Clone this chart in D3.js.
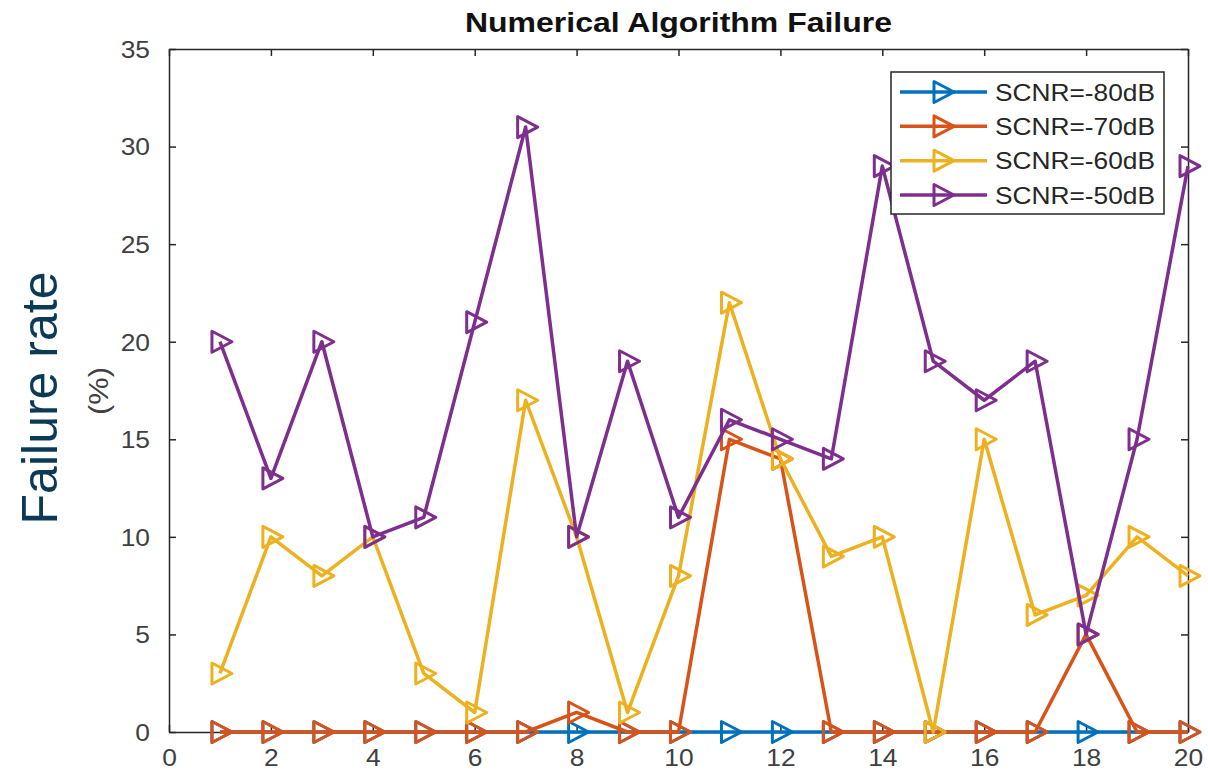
<!DOCTYPE html>
<html>
<head>
<meta charset="utf-8">
<script src="https://cdn.jsdelivr.net/npm/d3@7"></script>
<style>
  html, body { margin: 0; padding: 0; background: #fff; }
  svg { display: block; font-family: "Liberation Sans", Arial, Helvetica, sans-serif; }
</style>
</head>
<body>
<svg id="chart" width="1208" height="779"></svg>
<script>
// Trial index (x axis)
const trials = [1, 2, 3, 4, 5, 6, 7, 8, 9, 10, 11, 12, 13, 14, 15, 16, 17, 18, 19, 20];

// Failure rate (%) per SCNR level
const scnr80 = [0, 0, 0, 0, 0, 0, 0, 0, 0, 0, 0, 0, 0, 0, 0, 0, 0, 0, 0, 0];
const scnr70 = [0, 0, 0, 0, 0, 0, 0, 1, 0, 0, 15, 14, 0, 0, 0, 0, 0, 5, 0, 0];
const scnr60 = [3, 10, 8, 10, 3, 1, 17, 10, 1, 8, 22, 14, 9, 10, 0, 15, 6, 7, 10, 8];
const scnr50 = [20, 13, 20, 10, 11, 21, 31, 10, 19, 11, 16, 15, 14, 29, 19, 17, 19, 5, 15, 29];

const seriesNames = ["SCNR=-80dB", "SCNR=-70dB", "SCNR=-60dB", "SCNR=-50dB"];
const seriesValues = [scnr80, scnr70, scnr60, scnr50];
const seriesColors = ["#0072BD", "#D95319", "#EDB120", "#7E2F8E"];

const xTicks = [0, 2, 4, 6, 8, 10, 12, 14, 16, 18, 20];
const yTicks = [0, 5, 10, 15, 20, 25, 30, 35];

const svg = d3.select("#chart");
const plot = { left: 169, right: 1188, top: 49, bottom: 732 };
const axisColor = "#262626";
const labelColor = "#404040";

const x = d3.scaleLinear().domain([0, 20]).range([plot.left, plot.right]);
const y = d3.scaleLinear().domain([0, 35]).range([plot.bottom, plot.top]);

// Widen text glyphs horizontally by factor k
function stretch(sel, k) {
  sel.each(function () {
    const w = this.getComputedTextLength();
    this.setAttribute("textLength", w * k);
    this.setAttribute("lengthAdjust", "spacingAndGlyphs");
  });
}

// Axes (ticks point inward on all four sides)
const tickLen = 7;
const gx = svg.append("g").attr("transform", `translate(0,${plot.bottom})`)
  .call(d3.axisBottom(x).tickValues(xTicks).tickFormat(d3.format("d")).tickSizeInner(-tickLen).tickSizeOuter(0).tickPadding(17));
const gxTop = svg.append("g").attr("transform", `translate(0,${plot.top})`)
  .call(d3.axisTop(x).tickValues(xTicks).tickFormat("").tickSizeInner(-tickLen).tickSizeOuter(0));
const gy = svg.append("g").attr("transform", `translate(${plot.left},0)`)
  .call(d3.axisLeft(y).tickValues(yTicks).tickFormat(d3.format("d")).tickSizeInner(-tickLen).tickSizeOuter(0).tickPadding(19));
const gyRight = svg.append("g").attr("transform", `translate(${plot.right},0)`)
  .call(d3.axisRight(y).tickValues(yTicks).tickFormat("").tickSizeInner(-tickLen).tickSizeOuter(0));

[gx, gxTop, gy, gyRight].forEach(g => {
  g.select(".domain").attr("stroke", axisColor).attr("stroke-width", 1.5);
  g.selectAll(".tick line").attr("stroke", axisColor).attr("stroke-width", 1.5);
  g.selectAll(".tick text").attr("fill", labelColor).attr("font-size", 24)
    .attr("font-family", "'Liberation Sans', Arial, sans-serif");
});
gx.selectAll(".tick text").attr("dy", "0.71em");
gy.selectAll(".tick text").attr("dy", "0.35em");
stretch(gx.selectAll(".tick text"), 1.1);
stretch(gy.selectAll(".tick text"), 1.1);

// Series lines and open right-pointing triangle markers
const line = d3.line().x((d, i) => x(trials[i])).y(d => y(d));
const tri = "M-8,-10.5 L12,0 L-8,10.5 Z";

seriesValues.forEach((vals, s) => {
  const g = svg.append("g");
  g.append("path").datum(vals)
    .attr("d", line).attr("fill", "none")
    .attr("stroke", seriesColors[s]).attr("stroke-width", 3.5)
    .attr("stroke-linejoin", "round");
  g.selectAll("path.mk").data(vals).enter().append("path")
    .attr("class", "mk")
    .attr("d", tri)
    .attr("transform", (d, i) => `translate(${x(trials[i])},${y(d)})`)
    .attr("fill", "none").attr("stroke", seriesColors[s]).attr("stroke-width", 3)
    .attr("stroke-linejoin", "round");
});

// Title
svg.append("text")
  .attr("x", (plot.left + plot.right) / 2).attr("y", 32)
  .attr("text-anchor", "middle").attr("font-weight", "bold").attr("font-size", 27)
  .attr("fill", "#111").text("Numerical Algorithm Failure")
  .attr("textLength", 427).attr("lengthAdjust", "spacingAndGlyphs");

// Y-axis labels
svg.append("text")
  .attr("transform", "translate(57,398) rotate(-90)")
  .attr("text-anchor", "middle").attr("font-size", 50)
  .attr("fill", "#0b3a57").text("Failure rate");
svg.append("text")
  .attr("transform", "translate(108,391) rotate(-90)")
  .attr("text-anchor", "middle").attr("font-size", 27)
  .attr("fill", labelColor).text("(%)")
  .attr("textLength", 48).attr("lengthAdjust", "spacingAndGlyphs");

// Legend
const legend = svg.append("g");
legend.append("rect")
  .attr("x", 891).attr("y", 72).attr("width", 273).attr("height", 142)
  .attr("fill", "#fff").attr("stroke", axisColor).attr("stroke-width", 1.5);
const ly = d3.scalePoint().domain(seriesNames).range([92, 195]);
seriesNames.forEach((name, s) => {
  const cy = ly(name);
  legend.append("line").attr("x1", 900).attr("x2", 987).attr("y1", cy).attr("y2", cy)
    .attr("stroke", seriesColors[s]).attr("stroke-width", 3.5);
  legend.append("path").attr("d", tri).attr("transform", `translate(942,${cy})`)
    .attr("fill", "none").attr("stroke", seriesColors[s]).attr("stroke-width", 3)
    .attr("stroke-linejoin", "round");
  legend.append("text").attr("x", 995).attr("y", cy + 8.5)
    .attr("font-size", 24).attr("fill", "#262626").text(name)
    .attr("textLength", 160).attr("lengthAdjust", "spacingAndGlyphs");
});
</script>
</body>
</html>
